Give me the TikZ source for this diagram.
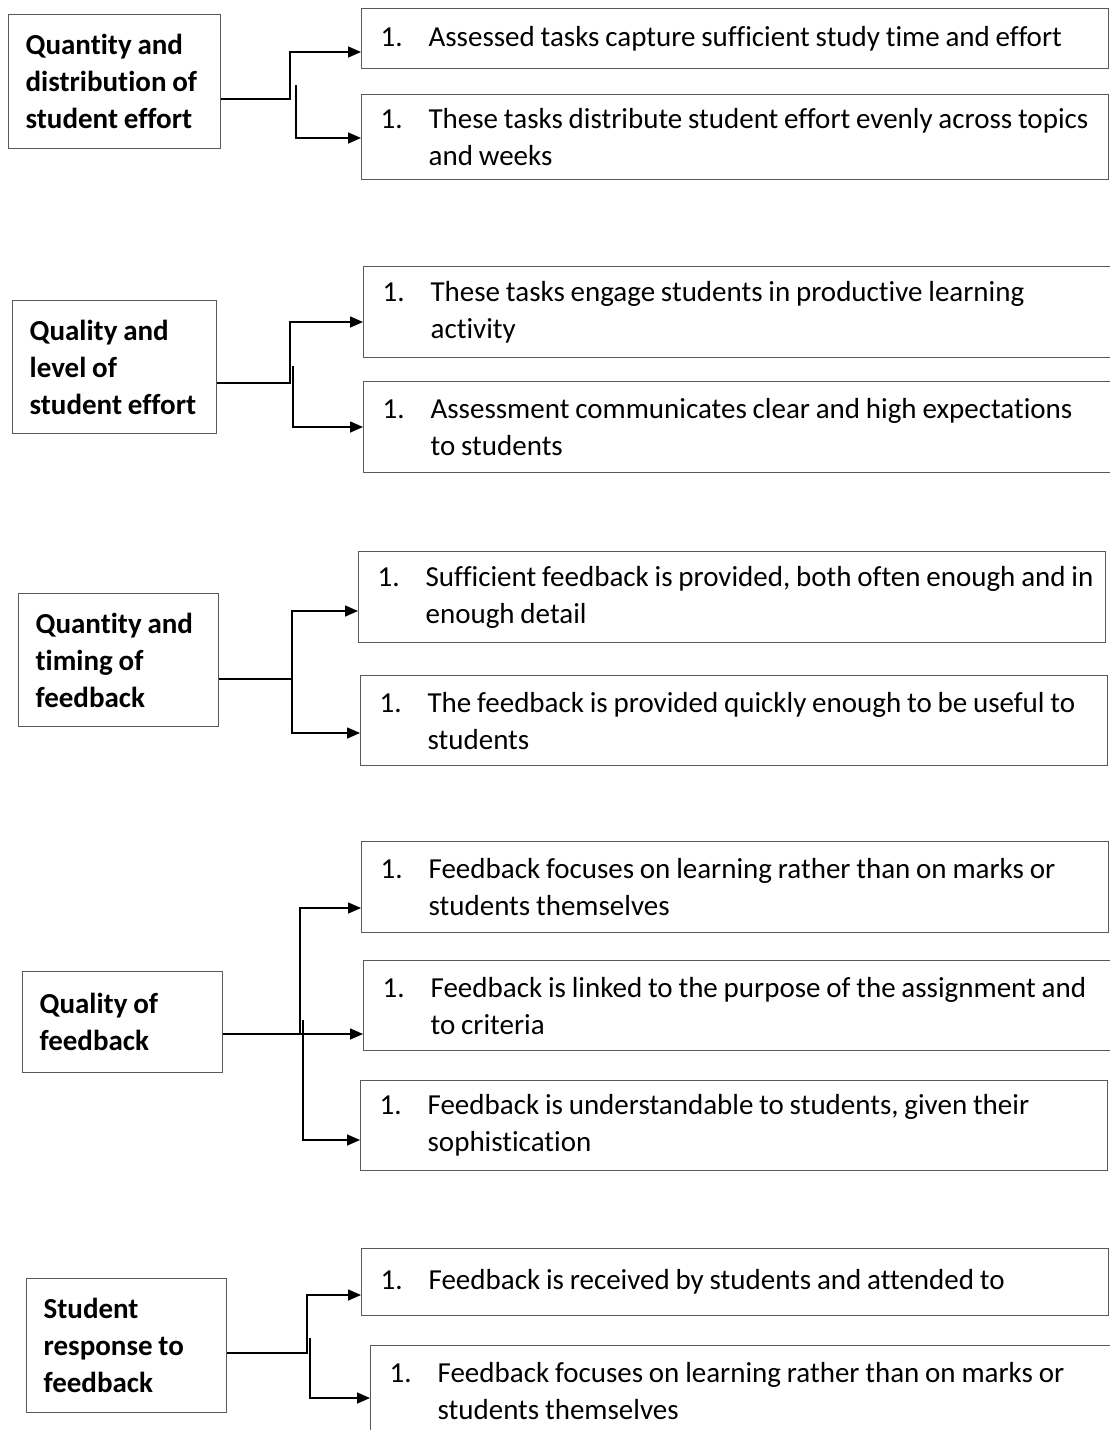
\documentclass[tikz,border=0pt]{standalone}
\usepackage{fontspec}
\setmainfont{Carlito}[Ligatures=NoCommon]
\usetikzlibrary{arrows.meta}

\newcommand{\itemno}{\hspace*{9pt}\makebox[48pt][l]{1.}}
\newcommand{\subline}{\hspace*{57pt}}
\hyphenpenalty=10000

\begin{document}
\begin{tikzpicture}
  [x=1pt,y=-1pt,
   every node/.style={draw=black!65,line width=1.3pt,anchor=north west,align=left,
     font=\fontsize{29}{37}\selectfont,
     execute at begin node={\spaceskip=0.2em plus 0.1em\relax}},
   topic/.style={font=\bfseries\fontsize{29}{37}\selectfont,inner xsep=17pt},
   point/.style={inner xsep=10pt,text width=727pt},
   link/.style={line width=1.6pt,-{Triangle[length=13pt,width=11pt]}}]
  \useasboundingbox (0,0) rectangle (1110,1430);

  % topics
  \node[topic,text width=178pt,minimum height=134pt] (q1) at (8,14)
    {Quantity and\\distribution of\\student effort};
  \node[topic,text width=170pt,minimum height=133pt] (q2) at (12,300)
    {Quality and\\level of\\student effort};
  \node[topic,text width=166pt,minimum height=133pt] (q3) at (18,593)
    {Quantity and\\timing of\\feedback};
  \node[topic,text width=166pt,minimum height=101pt] (q4) at (22,971)
    {Quality of\\feedback};
  \node[topic,text width=166pt,minimum height=134pt] (q5) at (26,1278)
    {Student\\response to\\feedback};

  % points
  \node[point,minimum height=60pt] (r1a) at (361,8)
    {\itemno Assessed tasks capture sufficient study time and effort};
  \node[point,minimum height=85pt] (r1b) at (361,94)
    {\itemno These tasks distribute student effort evenly across topics\\\subline and weeks};
  \node[point,minimum height=91pt] (r2a) at (363,266)
    {\itemno These tasks engage students in productive learning\\\subline activity};
  \node[point,minimum height=91pt] (r2b) at (363,381)
    {\itemno Assessment communicates clear and high expectations\\\subline to students};
  \node[point,minimum height=91pt] (r3a) at (358,551)
    {\itemno Sufficient feedback is provided, both often enough and in\\\subline enough detail};
  \node[point,minimum height=90pt] (r3b) at (360,675)
    {\itemno The feedback is provided quickly enough to be useful to\\\subline students};
  \node[point,minimum height=91pt] (r4a) at (361,841)
    {\itemno Feedback focuses on learning rather than on marks or\\\subline students themselves};
  \node[point,minimum height=90pt] (r4b) at (363,960)
    {\itemno Feedback is linked to the purpose of the assignment and\\\subline to criteria};
  \node[point,minimum height=90pt] (r4c) at (360,1080)
    {\itemno Feedback is understandable to students, given their\\\subline sophistication};
  \node[point,minimum height=67pt] (r5a) at (361,1248)
    {\itemno Feedback is received by students and attended to};
  \node[point,minimum height=91pt] (r5b) at (370,1345)
    {\itemno Feedback focuses on learning rather than on marks or\\\subline students themselves};

  % junctions
  \coordinate (j1) at (290,99);   \coordinate (s1) at (296,85);
  \coordinate (j2) at (290,383);  \coordinate (s2) at (293,366);
  \coordinate (j3) at (292,679);  \coordinate (s3) at (292,679);
  \coordinate (j4) at (300,1034); \coordinate (s4) at (303,1020);
  \coordinate (j5) at (307,1353); \coordinate (s5) at (310,1338);

  \foreach \from/\via/\to/\y in {q1/j1/r1a/52,q2/j2/r2a/322,q3/j3/r3a/611,q4/j4/r4a/908,q5/j5/r5a/1295}
    \draw[link] (\from.east |- \via) -- (\via) |- (\to.west |- 0,\y);

  \foreach \via/\to/\y in {s1/r1b/138,s2/r2b/427,s3/r3b/733,s4/r4c/1140,s5/r5b/1398}
    \draw[link] (\via) |- (\to.west |- 0,\y);

  \draw[link] (j4) -- (r4b.west |- j4);

\end{tikzpicture}
\end{document}
